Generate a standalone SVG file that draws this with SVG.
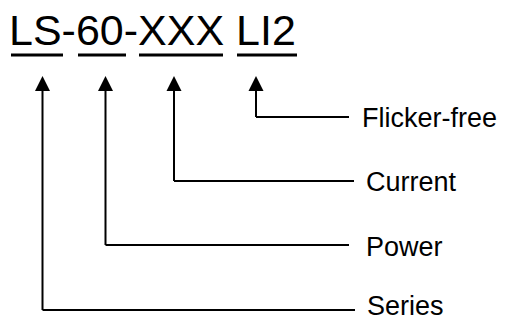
<svg xmlns="http://www.w3.org/2000/svg" width="506" height="320" viewBox="0 0 506 320">
  <style>
    .t { font-family: "Liberation Sans", Arial, sans-serif; fill: #000; }
    .title { font-size: 43px; }
    .lbl { font-size: 27px; }
    .ul { stroke: #000; stroke-width: 3; }
    .conn { fill: none; stroke: #000; stroke-width: 2; }
  </style>
  <g id="code">
    <text class="t title" x="9" y="45">LS-60-XXX LI2</text>
    <line class="ul" x1="11" y1="55" x2="63" y2="55"/>
    <line class="ul" x1="78" y1="55" x2="126" y2="55"/>
    <line class="ul" x1="139" y1="55" x2="223" y2="55"/>
    <line class="ul" x1="237" y1="55" x2="297" y2="55"/>
  </g>
  <g id="connectors">
    <path class="conn" d="M42.5,310 V84 M42.5,310 H355" />
    <path class="conn" d="M105.5,245 V84 M105.5,245 H349" />
    <path class="conn" d="M174,181 V84 M174,181 H354" />
    <path class="conn" d="M256,117 V84 M256,117 H349" />
    <polygon points="35,91 42.5,76 50,91" fill="#000"/>
    <polygon points="98,91 105.5,76 113,91" fill="#000"/>
    <polygon points="166.5,91 174,76 181.5,91" fill="#000"/>
    <polygon points="248.5,91 256,76 263.5,91" fill="#000"/>
  </g>
  <g id="flicker-free"><text class="t lbl" x="362" y="127">Flicker-free</text></g>
  <g id="current"><text class="t lbl" x="366" y="190.5">Current</text></g>
  <g id="power"><text class="t lbl" x="366" y="256">Power</text></g>
  <g id="series"><text class="t lbl" x="367" y="314.5">Series</text></g>
</svg>
